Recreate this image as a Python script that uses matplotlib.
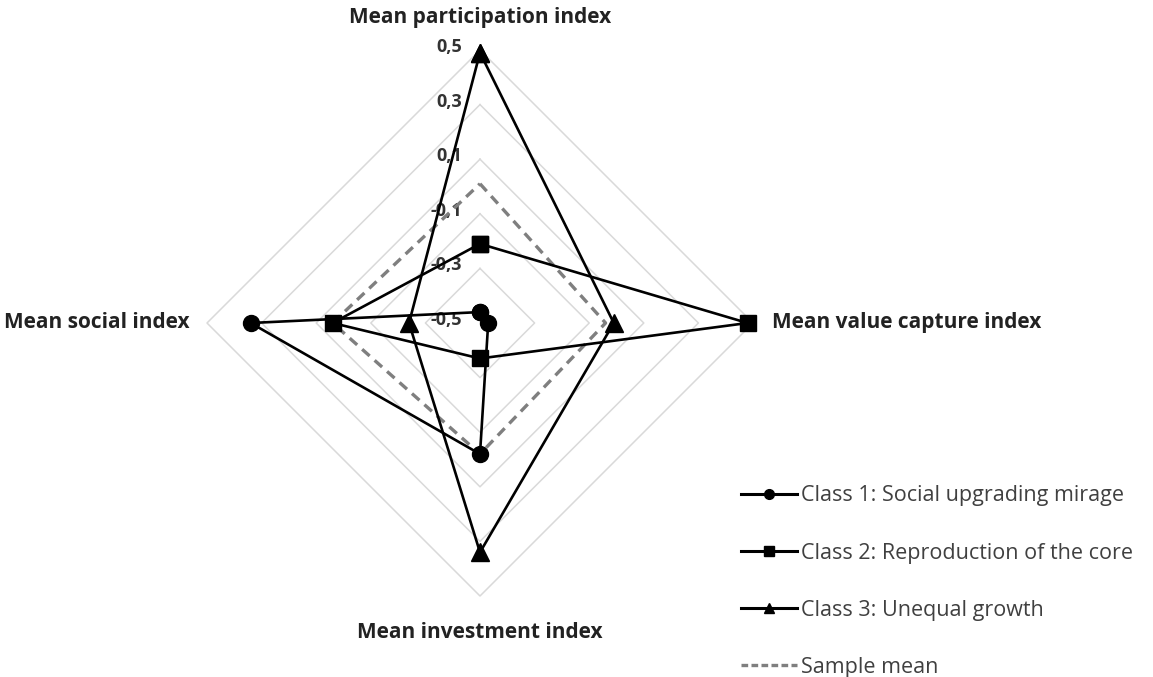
import numpy as np
import matplotlib
matplotlib.use("Agg")
import matplotlib.pyplot as plt
from matplotlib.lines import Line2D

axes_labels = ["Mean participation index", "Mean value capture index",
               "Mean investment index", "Mean social index"]
ticks = [-0.5, -0.3, -0.1, 0.1, 0.3, 0.5]
tick_labels = ["-0,5", "-0,3", "-0,1", "0,1", "0,3", "0,5"]

class1 = [-0.46, -0.47, -0.02, 0.34]
class2 = [-0.21, 0.48, -0.37, 0.04]
class3 = [0.49, -0.01, 0.34, -0.24]
sample_mean = [0.01, -0.04, -0.02, 0.04]

names = ["Class 1: Social upgrading mirage", "Class 2: Reproduction of the core",
         "Class 3: Unequal growth", "Sample mean"]

W, H = 1153, 677
cx, cy, scale = 480, 323, 273
rmin = ticks[0]

fig = plt.figure(figsize=(W / 100, H / 100), dpi=100)
ax = fig.add_axes([0, 0, 1, 1])
ax.set_xlim(-cx / scale, (W - cx) / scale)
ax.set_ylim((cy - H) / scale, cy / scale)
ax.axis("off")

theta = np.array([0, 0.5, 1.0, 1.5]) * np.pi


def to_xy(vals):
    r = np.array(vals) - rmin
    r = np.append(r, r[0])
    t = np.append(theta, theta[0])
    return r * np.sin(t), r * np.cos(t)


# grid diamonds
for t in ticks[1:]:
    gx, gy = to_xy([t] * 4)
    ax.plot(gx, gy, color="#d9d9d9", lw=1.1, zorder=1)

# tick labels on the top axis
for t, lab in zip(ticks, tick_labels):
    ax.text(-18 / scale, t - rmin + 3 / scale, lab, ha="right", va="center",
            fontsize=13, fontweight="bold", color="#333333", family="Open Sans", zorder=2)

styles = [dict(marker="o", ms=11.5), dict(marker="s", ms=11), dict(marker="^", ms=12.5)]
for vals, st in zip([class1, class2, class3], styles):
    x, y = to_xy(vals)
    ax.plot(x, y, color="black", lw=1.9, zorder=4, **st)

x, y = to_xy(sample_mean)
ax.plot(x, y, color="#7f7f7f", lw=2.4, ls=(0, (3, 2)), zorder=3)

# axis labels
lab_kw = dict(fontsize=15, fontweight="bold", color="#222222", family="Open Sans")
ax.text(0, (cy - 17) / scale, axes_labels[0], ha="center", va="center", **lab_kw)
ax.text((772 - cx) / scale, 0, axes_labels[1], ha="left", va="center", **lab_kw)
ax.text(0, (cy - 632) / scale, axes_labels[2], ha="center", va="center", **lab_kw)
ax.text((190 - cx) / scale, 0, axes_labels[3], ha="right", va="center", **lab_kw)

handles = [
    Line2D([], [], color="black", lw=2.2, marker="o", ms=7),
    Line2D([], [], color="black", lw=2.2, marker="s", ms=7),
    Line2D([], [], color="black", lw=2.2, marker="^", ms=7),
    Line2D([], [], color="#7f7f7f", lw=2.4, ls=(0, (2, 1))),
]
leg = fig.legend(handles, names, loc="upper left", bbox_to_anchor=(722 / W, 1 - 466 / H),
                 frameon=False, handlelength=2.6, handletextpad=0.15, labelspacing=1.68,
                 prop=dict(family="Open Sans", size=15.5))
for txt in leg.get_texts():
    txt.set_color("#404040")

fig.savefig("out.png", dpi=100)
